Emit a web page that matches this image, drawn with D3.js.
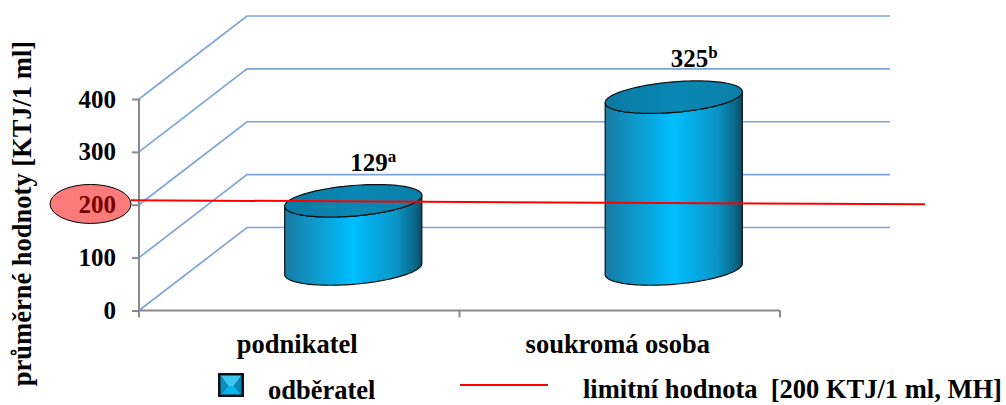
<!DOCTYPE html>
<html>
<head>
<meta charset="utf-8">
<script src="https://cdn.jsdelivr.net/npm/d3@7"></script>
</head>
<body style="margin:0">
<svg id="chart" width="1006" height="405"></svg>
<script>
// Data
const categories = ["podnikatel", "soukromá osoba"];
const values = [129, 325];
const valueNotes = ["a", "b"];
const yTickValues = [0, 100, 200, 300, 400];
const limitValue = 200;
const seriesName = "odběratel";
const limitName = "limitní hodnota  [200 KTJ/1 ml, MH]";
const yTitle = "průměrné hodnoty [KTJ/1 ml]";

const FONT = "'Liberation Serif', serif";
const svg = d3.select("#chart");
const defs = svg.append("defs");

// Serif bold text helper
function styleText(sel, size) {
  return sel.attr("font-family", FONT).attr("font-weight", "bold").attr("font-size", size)
    .style("font-family", FONT, "important").style("font-weight", "bold", "important");
}

// Front plane scales plus the depth offset of the back wall
const x = d3.scaleBand().domain(categories).range([139, 780]);
const y = d3.scaleLinear().domain([0, 400]).range([310.5, 99]);
const depth = { dx: 108, dy: -83 };
const backRight = 890;

// Gradients
const bodyGrad = defs.append("linearGradient").attr("id", "cylBody")
  .attr("x1", 0).attr("x2", 1).attr("y1", 0).attr("y2", 0);
[[0, "#1a7aa3"], [0.1, "#1289b6"], [0.5, "#00bfff"], [0.82, "#0893c4"], [0.95, "#0b6788"], [1, "#0a4c66"]]
  .forEach(([o, c]) => bodyGrad.append("stop").attr("offset", o).attr("stop-color", c));
const topGrad = defs.append("linearGradient").attr("id", "cylTop")
  .attr("x1", 0).attr("x2", 1).attr("y1", 0).attr("y2", 0);
[[0, "#0a7aa3"], [0.5, "#0a88b4"], [1, "#0a80aa"]]
  .forEach(([o, c]) => topGrad.append("stop").attr("offset", o).attr("stop-color", c));

// Back wall gridlines (diagonal side wall + horizontal back wall)
svg.append("g").selectAll("path").data(yTickValues).join("path")
  .attr("d", v => `M${x.range()[0]},${y(v)} L${x.range()[0] + depth.dx},${y(v) + depth.dy} L${backRight},${y(v) + depth.dy}`)
  .attr("fill", "none").attr("stroke", "#7ca5de").attr("stroke-width", 1.7);

// Y axis
const yAxis = svg.append("g").attr("transform", `translate(${x.range()[0]},0)`)
  .call(d3.axisLeft(y).tickValues(yTickValues).tickSize(7).tickPadding(16).tickFormat(d3.format("d")));
yAxis.attr("font-family", FONT);
yAxis.select(".domain").attr("stroke", "#8a8a8a").attr("stroke-width", 2).attr("d", `M0,${y(400)}V${y(0)}`);
yAxis.selectAll(".tick line").attr("stroke", "#8a8a8a").attr("stroke-width", 2);
styleText(yAxis.selectAll(".tick text"), 25).attr("fill", "#000");

// Highlight of the limit value on the y axis
yAxis.selectAll(".tick").filter(d => d === limitValue)
  .each(function () {
    const t = d3.select(this);
    t.insert("ellipse", "text")
      .attr("cx", -48.5).attr("cy", -1.3).attr("rx", 40.5).attr("ry", 19.5)
      .attr("fill", "#fb7b7b").attr("stroke", "#000").attr("stroke-width", 1);
    t.select("text").attr("fill", "#7a0000");
  });

// Category axis along the front floor edge
const xAxis = svg.append("g");
xAxis.append("line")
  .attr("x1", x.range()[0]).attr("x2", x.range()[1]).attr("y1", y(0)).attr("y2", y(0))
  .attr("stroke", "#8a8a8a").attr("stroke-width", 2);
xAxis.selectAll("line.tk").data([...categories.map(c => x(c)), x.range()[1]]).join("line")
  .attr("class", "tk").attr("x1", d => d).attr("x2", d => d)
  .attr("y1", y(0)).attr("y2", y(0) + 7)
  .attr("stroke", "#8a8a8a").attr("stroke-width", 2);
styleText(xAxis.selectAll("text").data(categories).join("text"), 26.5)
  .attr("x", d => x(d) + x.bandwidth() / 2 - 2).attr("y", 353)
  .attr("text-anchor", "middle").text(d => d);

// Cylinders, placed halfway into the depth of the plot
const rx = x.bandwidth() * 0.214, ry = 15.3, shear = 5.5;
const ptAt = (cx, cy, t) => [cx + rx * Math.cos(t), cy + ry * Math.sin(t) - shear * Math.cos(t)];
const arc = (cx, cy, t0, t1, n = 60) => d3.range(n + 1).map(i => ptAt(cx, cy, t0 + (t1 - t0) * i / n));
const line = d3.line();

const bars = svg.append("g").selectAll("g").data(categories.map((c, i) => ({ c, v: values[i], note: valueNotes[i] })))
  .join("g");

bars.each(function (d) {
  const g = d3.select(this);
  const cx = x(d.c) + x.bandwidth() / 2 + depth.dx / 2;
  const baseY = y(0) + depth.dy / 2;
  const topY = y(d.v) + depth.dy / 2;
  const body = [
    ...arc(cx, baseY, Math.PI, 0),
    ...arc(cx, topY, 0, Math.PI)
  ];
  g.append("path").attr("d", line(body) + "Z")
    .attr("fill", "url(#cylBody)").attr("stroke", "#111").attr("stroke-width", 1.2);
  g.append("path").attr("d", line(arc(cx, topY, 0, 2 * Math.PI, 120)) + "Z")
    .attr("fill", "url(#cylTop)").attr("stroke", "#111").attr("stroke-width", 1.2);

  const lbl = styleText(g.append("text"), 25).attr("x", cx - 3).attr("y", topY - 30);
  lbl.append("tspan").text(d3.format("d")(d.v));
  lbl.append("tspan").attr("dy", -9).attr("font-size", 17).text(d.note);
});

// Limit line
svg.append("line")
  .attr("x1", 131).attr("y1", y(limitValue) - 4.5)
  .attr("x2", 925).attr("y2", y(limitValue) - 0.5)
  .attr("stroke", "#ff0000").attr("stroke-width", 2);

// Y axis title
styleText(svg.append("text"), 26.5)
  .attr("transform", `translate(31,${213.5}) rotate(-90)`)
  .attr("text-anchor", "middle").text(yTitle);

// Legend
const lg = svg.append("g");
const ix = 218, iy = 373, iw = 26, ih = 24, b = 2.5;
lg.append("rect").attr("x", ix).attr("y", iy).attr("width", iw).attr("height", ih).attr("fill", "#101010");
const inner = [[ix + b, iy + b], [ix + iw - b, iy + b], [ix + iw - b, iy + ih - b], [ix + b, iy + ih - b]];
const mid = [[ix + iw / 2 - 3, iy + ih / 2 + 1], [ix + iw / 2 + 3, iy + ih / 2 + 1]];
const facets = [
  { p: [inner[0], inner[1], mid[1], mid[0]], c: "#3cc6f0" },
  { p: [inner[1], inner[2], mid[1]], c: "#0a86b6" },
  { p: [inner[2], inner[3], mid[0], mid[1]], c: "#07b4ec" },
  { p: [inner[3], inner[0], mid[0]], c: "#0b8fc0" }
];
lg.selectAll("path.f").data(facets).join("path").attr("class", "f")
  .attr("d", d => line(d.p) + "Z").attr("fill", d => d.c);
styleText(lg.append("text"), 26.5).attr("x", 268).attr("y", 399).text(seriesName);
lg.append("line").attr("x1", 460).attr("x2", 548).attr("y1", 385).attr("y2", 385)
  .attr("stroke", "#ff0000").attr("stroke-width", 2);
styleText(lg.append("text"), 26.5).attr("x", 583).attr("y", 398)
  .style("white-space", "pre").text(limitName);
</script>
</body>
</html>
